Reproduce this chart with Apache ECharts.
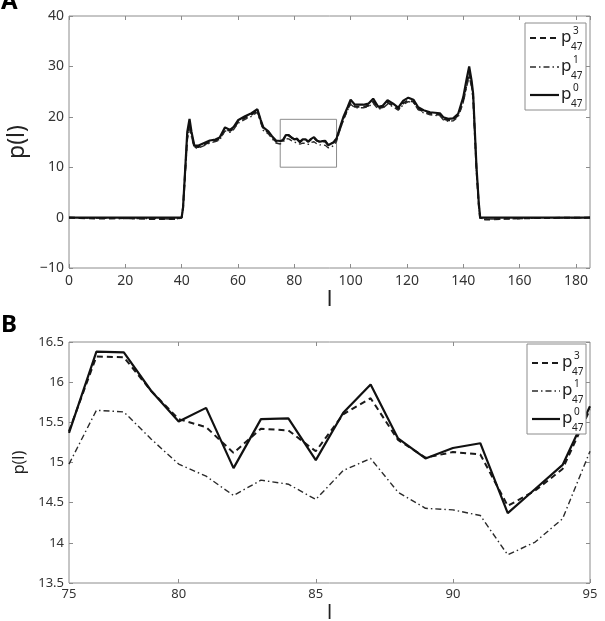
<!DOCTYPE html>
<html>
<head>
<meta charset="utf-8">
<script src="https://cdn.jsdelivr.net/npm/echarts@6/dist/echarts.min.js"></script>
<style>
  html, body { margin: 0; padding: 0; background: #fff; }
  #main { width: 605px; height: 621px; }
</style>
</head>
<body>
<div id="main"></div>
<script>
// panel B: zoom on l = 76..95
var bL  = [76, 77, 78, 79, 80, 81, 82, 83, 84, 85, 86, 87, 88, 89, 90, 91, 92, 93, 94, 95];
var bP3 = [15.39, 16.32, 16.31, 15.89, 15.54, 15.44, 15.12, 15.42, 15.40, 15.14, 15.60, 15.80, 15.28, 15.06, 15.13, 15.10, 14.46, 14.65, 14.92, 15.66];
var bP1 = [14.98, 15.65, 15.63, 15.29, 14.98, 14.83, 14.59, 14.78, 14.73, 14.54, 14.90, 15.05, 14.63, 14.43, 14.41, 14.34, 13.85, 14.01, 14.30, 15.14];
var bP0 = [15.37, 16.38, 16.37, 15.89, 15.51, 15.68, 14.93, 15.54, 15.55, 15.03, 15.62, 15.97, 15.30, 15.05, 15.18, 15.24, 14.37, 14.67, 14.97, 15.70];

// panel A: left part (before the zoom window) and right part (after it)
var aLeftL  = [0, 10, 20, 30, 38, 40, 40.5, 41.3, 42, 42.8, 43.5, 44.5, 46, 48, 50, 52, 53.5, 55.4, 57.2, 58.5, 60, 62.5, 64.8, 66.9, 68, 69, 70.8, 72, 73.5, 75];
var aLeftP3 = [0, -0.2, -0.1, -0.3, -0.3, 0, 2, 9.5, 16, 18.5, 16.5, 14, 14, 14.5, 15, 15.3, 15.6, 17.5, 17.2, 17.7, 19, 19.8, 20.4, 21.2, 19.3, 17.6, 16.9, 16, 15.1, 15];
var aLeftP1 = [0, -0.1, -0.2, -0.2, -0.3, 0, 1.8, 9, 15.5, 17.8, 16, 13.8, 13.8, 14.3, 14.8, 15.1, 15.4, 17.2, 16.9, 17.5, 18.7, 19.5, 20.1, 20.9, 19, 17.3, 16.6, 15.7, 14.8, 14.6];
var aLeftP0 = [0, 0, 0, 0, 0, 0, 2, 10, 17, 19.6, 17, 14.3, 14.3, 14.8, 15.3, 15.5, 15.9, 17.9, 17.4, 18, 19.3, 20.1, 20.7, 21.5, 19.5, 17.9, 17.1, 16.2, 15.3, 15.2];

var aRightL  = [96, 97.4, 99, 100, 101.5, 104.5, 106.3, 108, 109.8, 111.4, 113.1, 115.1, 116.9, 118.7, 120.5, 122.3, 124, 125.9, 128.2, 131.7, 132.9, 134.7, 136.4, 138.2, 140, 141.2, 142.1, 143, 143.5, 144.7, 145.5, 146, 148, 155, 165, 185];
var aRightP3 = [17.2, 19.5, 21.6, 22.8, 22, 22, 22.2, 23, 21.7, 21.9, 22.8, 22.2, 21.5, 22.7, 23.3, 23, 21.6, 21, 20.6, 20.4, 19.6, 19.3, 19.4, 20.3, 23.2, 26.5, 28.7, 26.2, 24, 9.5, 2.5, -0.2, -0.4, -0.2, -0.1, 0];
var aRightP1 = [17, 19.3, 21.4, 22.5, 21.8, 21.8, 22, 22.7, 21.5, 21.7, 22.5, 22, 21.3, 22.4, 23, 22.8, 21.4, 20.8, 20.4, 20.2, 19.4, 19.1, 19.2, 20, 22.8, 26, 28, 25.8, 23.5, 9, 2.3, -0.1, -0.3, -0.3, -0.1, 0];
var aRightP0 = [17.5, 19.9, 22, 23.4, 22.4, 22.4, 22.6, 23.6, 22, 22.2, 23.3, 22.6, 21.8, 23.2, 23.8, 23.4, 21.9, 21.3, 20.9, 20.7, 19.9, 19.6, 19.7, 20.6, 23.9, 27.5, 30, 27, 24.6, 10, 3, 0, 0, 0, 0, 0];

// inset box drawn on panel A
var boxL = [75, 95];
var boxP = [10, 19.5];

// tick labels of panel B (the picture's left edge sits at l=76 but is labelled 75)
var bTickVals = [76, 80, 85, 90, 95];
var bTickText = ['75', '80', '85', '90', '95'];

var seriesNames = ['p3', 'p1', 'p0'];
var supText = ['3', '1', '0'];

function pairs(xs, ys) {
  var out = [];
  for (var i = 0; i < xs.length; i++) out.push([xs[i], ys[i]]);
  return out;
}

var aL = aLeftL.concat(bL, aRightL);
var aP3 = aLeftP3.concat(bP3, aRightP3);
var aP1 = aLeftP1.concat(bP1, aRightP1);
var aP0 = aLeftP0.concat(bP0, aRightP0);

var FONT = 'Noto Sans';
var AXIS = '#8c8c8c';
var TXT = '#333';

var styles = [
  { color: '#1a1a1a', width: 2, type: [6, 4] },          // p3 dashed
  { color: '#2a2a2a', width: 1.4, type: [6, 3, 1.5, 3] }, // p1 dash-dot
  { color: '#111', width: 2.2, type: 'solid' }            // p0 solid
];

function tickOnly(gridIndex, pos, min, max, interval, custom) {
  var ax = {
    type: 'value', gridIndex: gridIndex, position: pos, min: min, max: max,
    axisLine: { show: false, onZero: false }, splitLine: { show: false },
    axisLabel: { show: false },
    axisTick: { show: true, inside: true, length: 4, lineStyle: { color: AXIS } }
  };
  if (interval) ax.interval = interval;
  if (custom) ax.axisTick.customValues = custom;
  return ax;
}

var xAxes = [
  {
    type: 'value', gridIndex: 0, position: 'bottom', min: 0, max: 185, interval: 20,
    axisLine: { show: false, onZero: false }, splitLine: { show: false },
    axisTick: { inside: true, length: 4, lineStyle: { color: AXIS } },
    axisLabel: { color: TXT, fontSize: 14, fontFamily: FONT, margin: 6, showMaxLabel: false },
    name: 'l', nameLocation: 'middle', nameGap: 20,
    nameTextStyle: { color: '#222', fontSize: 22, fontFamily: FONT }
  },
  tickOnly(0, 'top', 0, 185, 20),
  {
    type: 'value', gridIndex: 1, position: 'bottom', min: 76, max: 95,
    axisLine: { show: false, onZero: false }, splitLine: { show: false },
    axisTick: { inside: true, length: 4, lineStyle: { color: AXIS }, customValues: [80, 85, 90, 95] },
    axisLabel: {
      color: TXT, fontSize: 13, fontFamily: FONT, margin: 5,
      customValues: bTickVals,
      formatter: function (v) { return bTickText[bTickVals.indexOf(v)]; }
    },
    name: 'l', nameLocation: 'middle', nameGap: 20,
    nameTextStyle: { color: '#222', fontSize: 20, fontFamily: FONT }
  },
  tickOnly(1, 'top', 76, 95, null, [80, 85, 90])
];

var yAxes = [
  {
    type: 'value', gridIndex: 0, position: 'left', min: -10, max: 40, interval: 10,
    axisLine: { show: false, onZero: false }, splitLine: { show: false },
    axisTick: { inside: true, length: 4, lineStyle: { color: AXIS } },
    axisLabel: {
      color: TXT, fontSize: 14, fontFamily: FONT, margin: 5,
      formatter: function (v) { return v < 0 ? '\u2212' + (-v) : String(v); }
    },
    name: 'p(l)', nameLocation: 'middle', nameGap: 26, nameRotate: 90,
    nameTextStyle: { color: '#222', fontSize: 23, fontFamily: FONT }
  },
  tickOnly(0, 'right', -10, 40, 10),
  {
    type: 'value', gridIndex: 1, position: 'left', min: 13.5, max: 16.5, interval: 0.5,
    axisLine: { show: false, onZero: false }, splitLine: { show: false },
    axisTick: { inside: true, length: 4, lineStyle: { color: AXIS } },
    axisLabel: { color: TXT, fontSize: 13, fontFamily: FONT, margin: 5 },
    name: 'p(l)', nameLocation: 'middle', nameGap: 34, nameRotate: 90,
    nameTextStyle: { color: '#222', fontSize: 16, fontFamily: FONT }
  },
  tickOnly(1, 'right', 13.5, 16.5, 0.5)
];

var aData = [aP3, aP1, aP0];
var bData = [bP3, bP1, bP0];
var series = [];
for (var i = 0; i < 3; i++) {
  series.push({
    name: seriesNames[i] + 'A', type: 'line', xAxisIndex: 0, yAxisIndex: 0,
    data: pairs(aL, aData[i]), showSymbol: false, symbol: 'none',
    lineStyle: styles[i], z: 2 + i
  });
}
for (var j = 0; j < 3; j++) {
  series.push({
    name: seriesNames[j] + 'B', type: 'line', xAxisIndex: 2, yAxisIndex: 2,
    data: pairs(bL, bData[j]), showSymbol: false, symbol: 'none',
    lineStyle: styles[j], z: 2 + j
  });
}
// inset rectangle showing the zoomed region
series[0].markArea = {
  silent: true,
  itemStyle: { color: 'rgba(0,0,0,0)', borderColor: '#8c8c8c', borderWidth: 1 },
  data: [[{ xAxis: boxL[0], yAxis: boxP[0] }, { xAxis: boxL[1], yAxis: boxP[1] }]]
};

// legend boxes drawn by hand (p with stacked super/subscript)
function legendBox(x, y, w, h, rows, lineX1, lineX2) {
  var els = [{
    type: 'rect', z: 100,
    shape: { x: x, y: y, width: w, height: h },
    style: { fill: '#fff', stroke: AXIS, lineWidth: 1 }
  }];
  for (var k = 0; k < 3; k++) {
    var ry = rows[k];
    els.push({
      type: 'line', z: 101,
      shape: { x1: lineX1, y1: ry, x2: lineX2, y2: ry },
      style: { stroke: styles[k].color, lineWidth: styles[k].width, lineDash: styles[k].type === 'solid' ? null : styles[k].type }
    });
    els.push({ type: 'text', z: 101, x: lineX2 + 2, y: ry - 1,
      style: { text: 'p', fontSize: 17, fontFamily: FONT, fill: '#222', verticalAlign: 'middle' } });
    els.push({ type: 'text', z: 101, x: lineX2 + 14, y: ry - 7,
      style: { text: supText[k], fontSize: 10, fontFamily: FONT, fill: '#222', verticalAlign: 'middle' } });
    els.push({ type: 'text', z: 101, x: lineX2 + 12, y: ry + 9,
      style: { text: '47', fontSize: 10, fontFamily: FONT, fill: '#222', verticalAlign: 'middle' } });
  }
  return els;
}

var graphics = [
  { type: 'text', x: 1, y: -10, style: { text: 'A', fontSize: 24, fontWeight: 'bold', fontFamily: FONT, fill: '#000' } },
  { type: 'text', x: 1, y: 313, style: { text: 'B', fontSize: 24, fontWeight: 'bold', fontFamily: FONT, fill: '#000' } }
].concat(
  legendBox(525, 23, 61, 87, [38, 67, 95], 530, 559),
  legendBox(527, 344, 59, 90, [363, 391, 419], 532, 560)
);

var chart = echarts.init(document.getElementById('main'), null, { renderer: 'canvas' });
var option = {
  backgroundColor: '#fff',
  animation: false,
  grid: [
    { left: 69, right: 15, top: 16, height: 252, outerBoundsMode: 'none', show: true, borderColor: AXIS, borderWidth: 1, backgroundColor: 'transparent' },
    { left: 69, right: 15, top: 342, height: 241, outerBoundsMode: 'none', show: true, borderColor: AXIS, borderWidth: 1, backgroundColor: 'transparent' }
  ],
  xAxis: xAxes,
  yAxis: yAxes,
  series: series,
  graphic: graphics
};
chart.setOption(option);
</script>
</body>
</html>
